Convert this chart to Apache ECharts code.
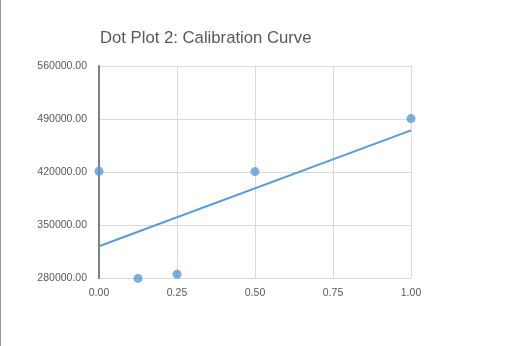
<!DOCTYPE html>
<html><head><meta charset="utf-8">
<script src="https://cdn.jsdelivr.net/npm/echarts@6/dist/echarts.min.js"></script>
<style>html,body{margin:0;padding:0;background:#fff}#c{width:509px;height:346px}</style>
</head><body><div id="c"></div>
<script>
const title = "Dot Plot 2: Calibration Curve";
const xValues = [0, 0.125, 0.25, 0.5, 1.0];
const yValues = [421000, 279500, 285000, 420500, 490500];
const trendX = [0, 1];
const trendY = [322000, 475000];
const yTicks = {min: 280000, max: 560000, interval: 70000};
const xTicks = {min: 0, max: 1, interval: 0.25};

const chart = echarts.init(document.getElementById('c'), null, {renderer: 'canvas'});
const font = 'Liberation Sans, Arial, sans-serif';
chart.setOption({
  animation: false,
  backgroundColor: '#fff',
  title: {text: title, left: 95, top: 25, textStyle: {fontFamily: font, fontSize: 16.7, fontWeight: 'normal', color: '#595959'}},
  graphic: [{type: 'rect', shape: {x: 0, y: 0, width: 1, height: 346}, style: {fill: '#9a9a9a'}}],
  grid: {left: 99, right: 98, top: 66, bottom: 68},
  xAxis: {
    type: 'value', min: xTicks.min, max: xTicks.max, interval: xTicks.interval,
    axisLine: {show: false}, axisTick: {show: false},
    splitLine: {lineStyle: {color: '#d9d9d9', width: 1}},
    axisLabel: {formatter: v => v.toFixed(2), fontFamily: font, fontSize: 10.5, color: '#595959', margin: 10}
  },
  yAxis: {
    type: 'value', min: yTicks.min, max: yTicks.max, interval: yTicks.interval,
    axisLine: {show: true, lineStyle: {color: '#7f7f7f', width: 2}}, axisTick: {show: false},
    splitLine: {lineStyle: {color: '#d9d9d9', width: 1}},
    axisLabel: {formatter: v => v.toFixed(2), fontFamily: font, fontSize: 10.5, color: '#595959', margin: 12}
  },
  series: [
    {type: 'line', data: trendX.map((x, i) => [x, trendY[i]]), symbol: 'none', lineStyle: {color: '#5b9bd5', width: 2}, z: 2},
    {type: 'scatter', clip: false, data: xValues.map((x, i) => [x, yValues[i]]), symbolSize: 9, itemStyle: {color: '#5b9bd5'}, z: 3}
  ]
});
</script></body></html>
